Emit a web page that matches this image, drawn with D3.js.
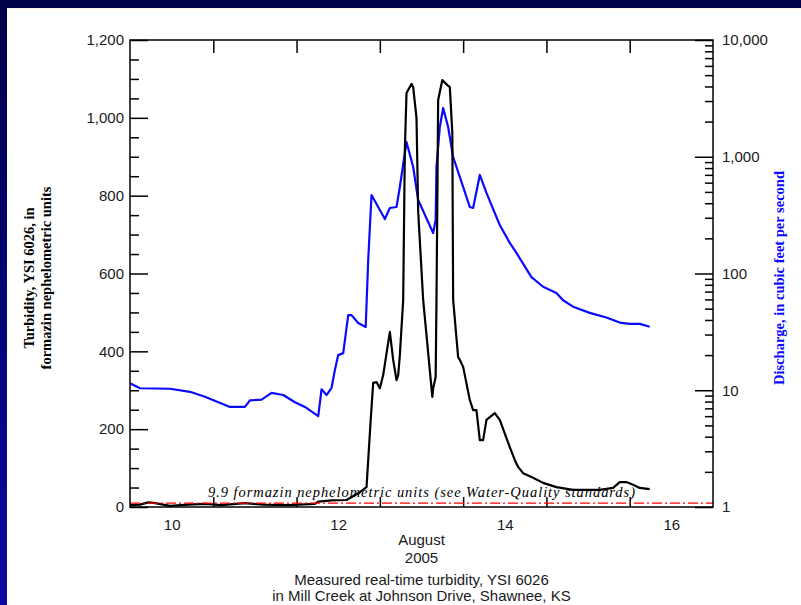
<!DOCTYPE html>
<html>
<head>
<meta charset="utf-8">
<script src="https://cdn.jsdelivr.net/npm/d3@7"></script>
<style>
  html, body { margin: 0; padding: 0; background: #ffffff; }
  svg { display: block; }
  .tick text { font-family: "Liberation Sans", Arial, sans-serif; font-size: 15px; fill: #1a1a1a; }
</style>
</head>
<body>
<script>
// ---------------- DATA ----------------
// Time in days of August 2005 (day boundaries at .5 per chart convention)
const turbTime = [9.50, 9.62, 9.72, 9.80, 9.98, 10.20, 10.40, 10.60, 10.88, 11.10, 11.40, 11.72, 11.76, 11.92, 12.10, 12.26, 12.34, 12.39, 12.42, 12.46, 12.50, 12.54, 12.62, 12.66, 12.70, 12.72, 12.74, 12.78, 12.80, 12.82, 12.88, 12.90, 12.92, 12.94, 12.96, 13.02, 13.13, 13.14, 13.17, 13.18, 13.20, 13.25, 13.31, 13.34, 13.37, 13.38, 13.44, 13.46, 13.50, 13.58, 13.62, 13.66, 13.70, 13.74, 13.78, 13.88, 13.94, 14.06, 14.12, 14.16, 14.22, 14.34, 14.46, 14.62, 14.82, 14.98, 15.14, 15.30, 15.38, 15.46, 15.54, 15.62, 15.74];
const turbValue = [5, 6, 12, 10, 3, 6, 8, 5, 10, 6, 5, 8, 14, 17, 18, 38, 51, 224, 319, 321, 305, 339, 450, 378, 326, 339, 390, 532, 917, 1064, 1087, 1079, 1040, 1000, 760, 532, 283, 305, 334, 532, 1046, 1097, 1084, 1079, 961, 532, 385, 378, 360, 275, 249, 249, 172, 172, 224, 241, 224, 154, 121, 103, 87, 75, 62, 51, 44, 44, 44, 49, 64, 64, 57, 49, 46];

const flowTime = [9.50, 9.62, 9.98, 10.22, 10.40, 10.70, 10.88, 10.94, 11.08, 11.20, 11.34, 11.48, 11.60, 11.76, 11.80, 11.86, 11.92, 11.96, 12.00, 12.06, 12.12, 12.16, 12.24, 12.33, 12.36, 12.40, 12.56, 12.62, 12.70, 12.74, 12.82, 12.90, 12.96, 13.14, 13.17, 13.18, 13.22, 13.26, 13.32, 13.38, 13.50, 13.58, 13.62, 13.70, 13.78, 13.94, 14.06, 14.14, 14.32, 14.46, 14.62, 14.70, 14.82, 15.02, 15.22, 15.38, 15.50, 15.62, 15.74];
const flowValue = [11.5, 10.4, 10.3, 9.7, 8.8, 7.2, 7.2, 8.2, 8.3, 9.5, 9.1, 7.9, 7.2, 6.0, 10.2, 9.1, 10.5, 14.9, 20, 20.8, 44, 44, 37.7, 34.8, 130, 470, 293, 364, 371, 551, 1337, 817, 426, 222, 287, 817, 1799, 2617, 1799, 995, 551, 371, 364, 698, 490, 260, 183, 150, 93, 77, 68, 59, 52, 46, 42, 38, 37, 37, 35];

const standardValue = 9.9;
const standardLabel = "9.9 formazin nephelometric units (see Water-Quality standards)";

const dayTickLabels = [10, 12, 14, 16];
const dayBoundaryTicks = [10.5, 11.5, 12.5, 13.5, 14.5, 15.5];
const leftMajorTicks = [0, 200, 400, 600, 800, 1000, 1200];
const leftMinorTicks = [50, 100, 150, 250, 300, 350, 450, 500, 550, 650, 700, 750, 850, 900, 950, 1050, 1100, 1150];
const rightMajorTicks = [1, 10, 100, 1000, 10000];
const rightMinorTicks = [2,3,4,5,6,7,8,9, 20,30,40,50,60,70,80,90, 200,300,400,500,600,700,800,900, 2000,3000,4000,5000,6000,7000,8000,9000];

const leftTitle = ["Turbidity, YSI 6026, in", "formazin nephelometric units"];
const rightTitle = "Discharge, in cubic feet per second";
const xTitle = ["August", "2005"];
const caption = ["Measured real-time turbidity, YSI 6026", "in Mill Creek at Johnson Drive, Shawnee, KS"];

// ---------------- LAYOUT ----------------
const W = 801, H = 605;
const plot = { left: 130, right: 713, top: 40, bottom: 507 };
const cx = (plot.left + plot.right) / 2;

const svg = d3.select("body").append("svg").attr("width", W).attr("height", H);

// Frame / background
const defs = svg.append("defs");
const grad = defs.append("linearGradient").attr("id", "leftGrad").attr("x1", 0).attr("y1", 0).attr("x2", 0).attr("y2", 1);
grad.append("stop").attr("offset", "0%").attr("stop-color", "#00004a");
grad.append("stop").attr("offset", "100%").attr("stop-color", "#0a0aa0");
svg.append("rect").attr("x", 0).attr("y", 0).attr("width", W).attr("height", H).attr("fill", "#ffffff");
svg.append("rect").attr("x", 0).attr("y", 0).attr("width", 7).attr("height", H).attr("fill", "url(#leftGrad)");
svg.append("rect").attr("x", 0).attr("y", 0).attr("width", W).attr("height", 8).attr("fill", "#00004a");
svg.append("rect").attr("x", 7).attr("y", 8).attr("width", W - 7).attr("height", 1).attr("fill", "#fdf1e4");

defs.append("clipPath").attr("id", "plotClip").append("rect")
  .attr("x", plot.left).attr("y", plot.top)
  .attr("width", plot.right - plot.left).attr("height", plot.bottom - plot.top);

// Scales
const x = d3.scaleLinear().domain([9.5, 16.5]).range([plot.left, plot.right]);
const yL = d3.scaleLinear().domain([0, 1200]).range([plot.bottom, plot.top]);
const yR = d3.scaleLog().domain([1, 10000]).range([plot.bottom, plot.top]);

// Axes
function styleAxis(g) {
  g.select(".domain").remove();
  g.selectAll(".tick line").attr("stroke", "#000").attr("stroke-width", 1.5);
}

svg.append("g").attr("transform", `translate(${plot.left},0)`)
  .call(d3.axisLeft(yL).tickValues(leftMajorTicks).tickSize(-18).tickSizeOuter(0).tickPadding(6).tickFormat(d3.format(",")))
  .call(styleAxis);
svg.append("g").attr("transform", `translate(${plot.left},0)`)
  .call(d3.axisLeft(yL).tickValues(leftMinorTicks).tickSize(-9).tickSizeOuter(0).tickFormat(""))
  .call(styleAxis);

svg.append("g").attr("transform", `translate(${plot.right},0)`)
  .call(d3.axisRight(yR).tickValues(rightMajorTicks).tickSize(-18).tickSizeOuter(0).tickPadding(9).tickFormat(d3.format(",")))
  .call(styleAxis);
svg.append("g").attr("transform", `translate(${plot.right},0)`)
  .call(d3.axisRight(yR).tickValues(rightMinorTicks).tickSize(-8).tickSizeOuter(0).tickFormat(""))
  .call(styleAxis);

svg.append("g").attr("transform", `translate(0,${plot.top})`)
  .call(d3.axisTop(x).tickValues(dayBoundaryTicks).tickSize(-13).tickSizeOuter(0).tickFormat(""))
  .call(styleAxis);
svg.append("g").attr("transform", `translate(0,${plot.bottom})`)
  .call(d3.axisBottom(x).tickValues(dayBoundaryTicks).tickSize(-10).tickSizeOuter(0).tickFormat(""))
  .call(styleAxis);
svg.append("g").attr("transform", `translate(0,${plot.bottom})`)
  .call(d3.axisBottom(x).tickValues(dayTickLabels).tickSize(0).tickSizeOuter(0).tickPadding(12).tickFormat(d3.format("d")))
  .call(styleAxis);

// Data lines
const gData = svg.append("g").attr("clip-path", "url(#plotClip)");

const flowLine = d3.line().x((d, i) => x(flowTime[i])).y(d => yR(d));
gData.append("path").datum(flowValue)
  .attr("d", flowLine).attr("fill", "none").attr("stroke", "#0a0aff")
  .attr("stroke-width", 2.2).attr("stroke-linejoin", "round");

const turbLine = d3.line().x((d, i) => x(turbTime[i])).y(d => yL(d));
gData.append("path").datum(turbValue)
  .attr("d", turbLine).attr("fill", "none").attr("stroke", "#000000")
  .attr("stroke-width", 2.2).attr("stroke-linejoin", "round");

// Standard line
gData.append("line")
  .attr("x1", x(9.5)).attr("x2", x(16.5))
  .attr("y1", yL(standardValue)).attr("y2", yL(standardValue))
  .attr("stroke", "#ff0000").attr("stroke-width", 1.3)
  .attr("stroke-dasharray", "10,3,2,3");

svg.append("text")
  .attr("x", 208).attr("y", yL(standardValue) - 6)
  .attr("font-family", "'Liberation Serif', 'Times New Roman', serif")
  .attr("font-style", "italic").attr("font-size", 14.5)
  .attr("textLength", 427).attr("lengthAdjust", "spacing")
  .attr("fill", "#000")
  .text(standardLabel);

// Plot frame
svg.append("rect")
  .attr("x", plot.left).attr("y", plot.top)
  .attr("width", plot.right - plot.left).attr("height", plot.bottom - plot.top)
  .attr("fill", "none").attr("stroke", "#000").attr("stroke-width", 1.5);

// Titles
const serif = "'Liberation Serif', 'Times New Roman', serif";
const titleY = 278;
svg.append("text")
  .attr("transform", `translate(34,${titleY}) rotate(-90)`)
  .attr("text-anchor", "middle").attr("font-family", serif).attr("font-weight", "bold")
  .attr("font-size", 14.5).attr("fill", "#000").text(leftTitle[0]);
svg.append("text")
  .attr("transform", `translate(51,${titleY}) rotate(-90)`)
  .attr("text-anchor", "middle").attr("font-family", serif).attr("font-weight", "bold")
  .attr("font-size", 14.5).attr("fill", "#000").text(leftTitle[1]);
svg.append("text")
  .attr("transform", `translate(784,${titleY}) rotate(-90)`)
  .attr("text-anchor", "middle").attr("font-family", serif).attr("font-weight", "bold")
  .attr("font-size", 14.5).attr("fill", "#0a0aff").text(rightTitle);

const sans = "'Liberation Sans', Arial, sans-serif";
const bottomTexts = [
  { t: xTitle[0], y: 545 },
  { t: xTitle[1], y: 563 },
  { t: caption[0], y: 585 },
  { t: caption[1], y: 601 }
];
svg.selectAll("text.bottom").data(bottomTexts).enter().append("text")
  .attr("class", "bottom")
  .attr("x", cx).attr("y", d => d.y)
  .attr("text-anchor", "middle").attr("font-family", sans).attr("font-size", 15)
  .attr("fill", "#1a1a1a").text(d => d.t);
</script>
</body>
</html>
